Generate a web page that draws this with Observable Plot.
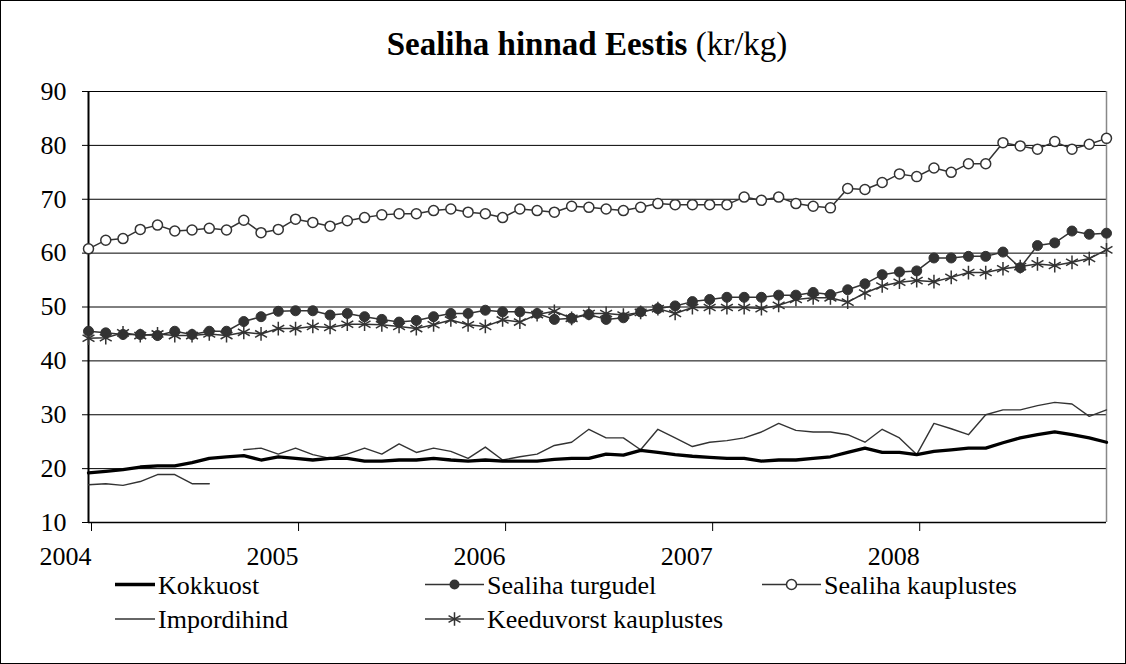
<!DOCTYPE html>
<html><head><meta charset="utf-8">
<script src="https://cdn.jsdelivr.net/npm/d3@7"></script>
<script src="https://cdn.jsdelivr.net/npm/@observablehq/plot@0.6"></script>
<style>
html,body{margin:0;padding:0;background:#fff;}
#frame{position:relative;width:1126px;height:664px;overflow:hidden;font-family:'Liberation Serif',serif;color:#000;}
#border{position:absolute;left:0;top:0;width:1124px;height:662px;border:1px solid #000;pointer-events:none;z-index:5}
#title{position:absolute;left:48px;right:0;top:25px;text-align:center;font-size:33px;line-height:38px;white-space:nowrap}
#chart{position:absolute;left:0;top:70px}
#legend{position:absolute;left:0;top:564px}
#chart svg text, #legend svg text{font-family:'Liberation Serif',serif}
</style>
</head><body>
<div id="frame">
  <div id="title"><b>Sealiha hinnad Eestis</b> (kr/kg)</div>
  <div id="chart"></div>
  <div id="legend"></div>
  <div id="border"></div>
</div>
<script>
// ---- data (monthly, Jan 2004 .. Dec 2008) ----
const years = [2004, 2005, 2006, 2007, 2008];
const yTicks = [10, 20, 30, 40, 50, 60, 70, 80, 90];
const seriesNames = ["Kokkuost", "Sealiha turgudel", "Sealiha kauplustes", "Impordihind", "Keeduvorst kauplustes"];

const kokkuost = [19.2,19.5,19.8,20.3,20.5,20.5,21.1,21.9,22.2,22.4,21.6,22.2,
  21.9,21.6,21.9,21.9,21.4,21.4,21.6,21.6,21.9,21.6,21.4,21.6,
  21.4,21.4,21.4,21.7,21.9,21.9,22.7,22.5,23.4,23.0,22.6,22.3,
  22.1,21.9,21.9,21.4,21.6,21.6,21.9,22.2,23.0,23.8,23.0,23.0,
  22.6,23.2,23.5,23.8,23.8,24.8,25.7,26.3,26.8,26.3,25.7,24.9];
const turgudel = [45.5,45.2,44.9,44.9,44.7,45.5,44.9,45.5,45.5,47.3,48.2,49.2,
  49.3,49.3,48.5,48.8,48.2,47.7,47.2,47.5,48.2,48.8,48.8,49.4,
  49.1,49.1,48.8,47.7,47.9,48.6,47.7,48.0,49.1,49.7,50.2,51.0,
  51.4,51.8,51.8,51.8,52.2,52.2,52.7,52.3,53.2,54.3,56.0,56.5,
  56.7,59.1,59.1,59.4,59.4,60.2,57.3,61.4,61.9,64.1,63.5,63.7];
const kauplustes = [60.8,62.4,62.7,64.4,65.2,64.1,64.3,64.6,64.3,66.1,63.8,64.4,
  66.3,65.7,65.0,66.0,66.6,67.1,67.3,67.3,67.9,68.2,67.6,67.3,
  66.6,68.2,67.9,67.6,68.7,68.5,68.2,67.9,68.5,69.2,69.0,69.0,
  69.0,69.0,70.4,69.8,70.4,69.2,68.7,68.4,72.0,71.8,73.1,74.7,
  74.2,75.8,75.0,76.6,76.6,80.5,79.9,79.3,80.7,79.3,80.2,81.3];
const impordihind = [17.0,17.2,16.9,17.6,18.9,18.9,17.2,17.2,null,23.5,23.8,22.7,
  23.8,22.6,21.9,22.7,23.8,22.7,24.6,23.0,23.8,23.2,21.9,24.0,
  21.6,22.2,22.7,24.3,24.9,27.3,25.7,25.7,23.5,27.3,25.7,24.1,
  24.9,25.2,25.7,26.8,28.4,27.1,26.8,26.8,26.3,24.9,27.3,25.7,
  22.6,28.4,27.4,26.3,30.0,30.9,30.9,31.7,32.3,32.0,29.7,30.9];
const keeduvorst = [44.2,44.3,45.2,44.7,45.0,44.7,44.7,45.0,44.7,45.3,45.0,46.0,
  46.0,46.4,46.2,46.8,46.8,46.7,46.4,46.0,46.7,47.6,46.7,46.4,
  47.6,47.2,48.6,49.2,47.9,48.8,48.8,48.5,49.0,49.7,48.8,49.9,
  49.9,49.9,49.9,49.7,50.3,51.4,51.7,51.7,50.9,52.6,53.9,54.6,
  54.9,54.7,55.5,56.4,56.4,57.1,57.5,58.0,57.7,58.3,59.0,60.6];

const toRows = (arr) => arr.map((v, i) => ({i, v: v == null ? NaN : v}));
const K = toRows(kokkuost), T = toRows(turgudel), S = toRows(kauplustes),
      I = toRows(impordihind), V = toRows(keeduvorst);

const font = "'Liberation Serif', serif";
const lineCol = "#333";

const chart = Plot.plot({
  width: 1126,
  height: 500,
  marginLeft: 88,
  marginRight: 20,
  marginTop: 21,
  marginBottom: 48,
  style: {fontFamily: font, fontSize: "26px", color: "#000", background: "transparent", overflow: "visible"},
  x: {type: "linear", domain: [0, 59]},
  y: {domain: [10, 90]},
  marks: [
    Plot.ruleY(yTicks.filter(d => d > 10), {stroke: "#000", strokeWidth: 1}),
    Plot.ruleX([59], {stroke: "#888", strokeWidth: 1.5}),
    Plot.axisY({ticks: yTicks, tickSize: 6, tickPadding: 16, label: null, fontSize: 26, stroke: "#000"}),
    Plot.axisX({ticks: years.map((y, k) => k * 12), tickFormat: d => String(years[d / 12]), tickSize: 9, tickPadding: 15,
      textAnchor: "end", dx: 3, label: null, fontSize: 26, stroke: "#000"}),
    Plot.ruleY([10], {stroke: "#000", strokeWidth: 1.5}),
    Plot.ruleX([0], {stroke: "#000", strokeWidth: 2}),
    Plot.line(I, {x: "i", y: "v", stroke: lineCol, strokeWidth: 1.4}),
    Plot.line(K, {x: "i", y: "v", stroke: "#000", strokeWidth: 3.3}),
    Plot.line(S, {x: "i", y: "v", stroke: lineCol, strokeWidth: 1.5}),
    Plot.dot(S, {x: "i", y: "v", r: 5, fill: "#fff", stroke: lineCol, strokeWidth: 1.5}),
    Plot.line(T, {x: "i", y: "v", stroke: lineCol, strokeWidth: 1.5}),
    Plot.dot(T, {x: "i", y: "v", r: 5, fill: lineCol, stroke: lineCol, strokeWidth: 1}),
    Plot.line(V, {x: "i", y: "v", stroke: lineCol, strokeWidth: 1.5}),
    Plot.dot(V, {x: "i", y: "v", r: 6.5, symbol: "asterisk", stroke: lineCol, strokeWidth: 1.5})
  ]
});
document.getElementById("chart").appendChild(chart);

// ---- legend ----
const legendLayout = [
  {x: 115, y: 20.5, w: 40, kind: "thick"},
  {x: 425, y: 20.5, w: 59, kind: "filled"},
  {x: 762, y: 20.5, w: 59, kind: "open"},
  {x: 115, y: 55, w: 40, kind: "thin"},
  {x: 425, y: 55, w: 59, kind: "star"}
];
const lsvg = d3.select("#legend").append("svg").attr("width", 1126).attr("height", 100)
  .attr("font-family", font).attr("font-size", 26);
legendLayout.forEach((L, k) => {
  const g = lsvg.append("g").attr("transform", `translate(${L.x},${L.y})`);
  g.append("line").attr("x1", 0).attr("x2", L.w).attr("y1", 0).attr("y2", 0)
    .attr("stroke", L.kind === "thick" ? "#000" : lineCol)
    .attr("stroke-width", L.kind === "thick" ? 3.3 : (L.kind === "thin" ? 1.4 : 1.5));
  const cx = L.w / 2;
  if (L.kind === "filled") g.append("circle").attr("cx", cx).attr("r", 5).attr("fill", lineCol);
  if (L.kind === "open") g.append("circle").attr("cx", cx).attr("r", 5).attr("fill", "#fff").attr("stroke", lineCol).attr("stroke-width", 1.5);
  if (L.kind === "star") g.append("path").attr("transform", `translate(${cx},0)`)
    .attr("d", d3.symbol(d3.symbolAsterisk, 6.5 * 6.5 * Math.PI)()).attr("stroke", lineCol).attr("stroke-width", 1.5).attr("fill", "none");
  g.append("text").attr("x", L.w + 3).attr("dy", "0.35em").attr("fill", "#000").text(seriesNames[k]);
});
</script>
</body></html>
